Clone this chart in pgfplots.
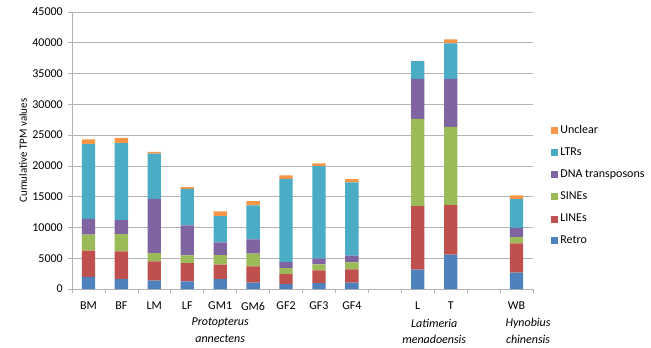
\documentclass[border=0pt]{standalone}
\usepackage{pgfplots}
\pgfplotsset{compat=1.18}
\usepackage{fontspec}
\setmainfont{Carlito}
\definecolor{cRetro}{HTML}{4F81BD}
\definecolor{cLINE}{HTML}{C0504D}
\definecolor{cSINE}{HTML}{9BBB59}
\definecolor{cDNA}{HTML}{8064A2}
\definecolor{cLTR}{HTML}{4BACC6}
\definecolor{cUnc}{HTML}{F79646}
\definecolor{gridc}{HTML}{B3B3B3}
\begin{document}
\fontsize{12bp}{14bp}\selectfont
\begin{tikzpicture}[font=\fontsize{12bp}{14bp}\selectfont]
\begin{axis}[
  scale only axis, width=461bp, height=277bp,
  at={(0,0)}, anchor=south west,
  ybar stacked, bar width=13.3bp,
  xmin=-0.5, xmax=13.5, ymin=0, ymax=45000,
  ytick={0,5000,...,45000},
  scaled y ticks=false,
  /pgf/number format/.cd, 1000 sep={}, assume math mode=true, /pgfplots/.cd,
  axis x line*=bottom, axis y line*=left,
  axis line style={gridc, line width=0.6pt},
  ymajorgrids, grid style={gridc, line width=0.6pt},
  tick align=outside,
  y tick style={gridc, line width=0.6pt}, major tick length=4bp,
  xtick={0,...,13},
  xticklabels={BM,BF,LM,LF,GM1,GM6,GF2,GF3,GF4,,L,T,,WB},
  major x tick style={draw=none},
  minor xtick={-0.5,0.5,...,13.5},
  minor x tick style={gridc, line width=0.6pt}, minor tick length=4bp,
  xticklabel style={yshift=-5bp},
  yticklabel style={xshift=-1bp},
  ylabel={Cumulative TPM values},
  every axis y label/.style={at={(rel axis cs:0,0.5)}, rotate=90, anchor=center, yshift=49bp, font=\fontsize{11bp}{13bp}\selectfont},
  clip=false,
  reverse legend,
  legend cell align=left,
  legend style={draw=none, fill=none, at={(rel axis cs:1.033,0.605)}, anchor=north west,
    row sep=8.5bp, font=\fontsize{12bp}{14bp}\selectfont},
  legend image code/.code={\fill[#1] (0bp,-3.5bp) rectangle (7bp,3.5bp);},
]
\addplot[fill=cRetro, draw=none] coordinates {(0,1950) (1,1620) (2,1350) (3,1240) (4,1620) (5,1020) (6,810) (7,970) (8,1020) (10,3130) (11,5570) (13,2650)};
\addplot[fill=cLINE, draw=none] coordinates {(0,4270) (1,4480) (2,3130) (3,2980) (4,2320) (5,2650) (6,1620) (7,2050) (8,2170) (10,10340) (11,8060) (13,4750)};
\addplot[fill=cSINE, draw=none] coordinates {(0,2600) (1,2825) (2,1360) (3,1240) (4,1570) (5,2060) (6,970) (7,970) (8,1140) (10,14170) (11,12710) (13,1040)};
\addplot[fill=cDNA, draw=none] coordinates {(0,2590) (1,2275) (2,8810) (3,4870) (4,2060) (5,2320) (6,980) (7,930) (8,1080) (10,6490) (11,7790) (13,1510)};
\addplot[fill=cLTR, draw=none] coordinates {(0,12130) (1,12490) (2,7350) (3,5950) (4,4280) (5,5520) (6,13520) (7,15040) (8,11900) (10,2870) (11,5790) (13,4650)};
\addplot[fill=cUnc, draw=none] coordinates {(0,750) (1,860) (2,280) (3,270) (4,750) (5,710) (6,540) (7,430) (8,540) (10,40) (11,650) (13,590)};
\legend{Retro,LINEs,SINEs,DNA transposons,LTRs,Unclear}
\node[font=\itshape\fontsize{12bp}{14bp}\selectfont] at ([yshift=-34bp]axis cs:4,0) {Protopterus};
\node[font=\itshape\fontsize{12bp}{14bp}\selectfont] at ([yshift=-50bp]axis cs:4,0) {annectens};
\node[font=\itshape\fontsize{12bp}{14bp}\selectfont] at ([yshift=-34bp]axis cs:10.5,0) {Latimeria};
\node[font=\itshape\fontsize{12bp}{14bp}\selectfont] at ([yshift=-50bp]axis cs:10.5,0) {menadoensis};
\node[font=\itshape\fontsize{12bp}{14bp}\selectfont] at ([yshift=-34bp]axis cs:13.35,0) {Hynobius};
\node[font=\itshape\fontsize{12bp}{14bp}\selectfont] at ([yshift=-50bp]axis cs:13.35,0) {chinensis};
\end{axis}
\pgfresetboundingbox
\path[use as bounding box] (-72bp,-59bp) rectangle (579bp,289bp);
\end{tikzpicture}
\end{document}
